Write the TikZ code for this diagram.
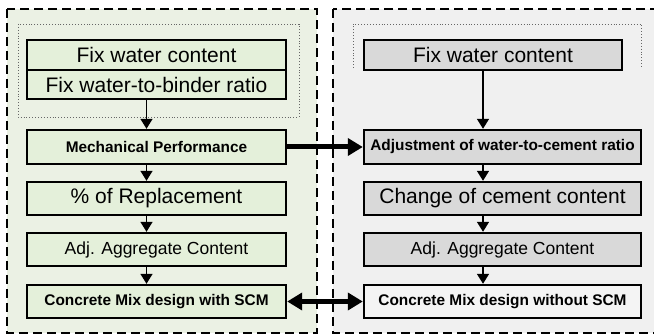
\documentclass[tikz,border=0pt]{standalone}
\usepackage{fontspec}
\setmainfont{Liberation Sans}
\usepackage{tikz}
\usetikzlibrary{arrows.meta, calc}

\definecolor{greenbg}{HTML}{EBF1E4}
\definecolor{greenbox}{HTML}{E4F0DA}
\definecolor{graybg}{HTML}{F0F0F0}
\definecolor{graybox}{HTML}{D9D9D9}
\definecolor{whitebox}{HTML}{F4F4F4}

\begin{document}
\begin{tikzpicture}[x=1pt, y=-1pt,
  box/.style={draw, line width=2.4pt, inner sep=0pt, font=\fontsize{21}{24}\selectfont},
  boldbox/.style={box, font=\fontsize{15.4}{18}\selectfont\bfseries},
  smallbox/.style={box, font=\fontsize{17.5}{20}\selectfont},
  leftbox/.style={fill=greenbox, minimum width=259pt},
  rightbox/.style={fill=graybox, minimum width=277pt},
  frame/.style={line width=2pt, dash pattern=on 9pt off 5pt},
  group/.style={black!60, line width=0.9pt, dotted},
  flow/.style={-{Triangle[length=10pt,width=12pt]}, line width=1.6pt},
  link/.style={-{Triangle[length=15pt,width=17pt]}, line width=5pt},
  twolink/.style={{Triangle[length=15pt,width=17pt]}-{Triangle[length=15pt,width=17pt]}, line width=4.5pt}]
\useasboundingbox (0,0) rectangle (654,336);
\fill[white] (0,0) rectangle (654,336);
\draw[frame, fill=greenbg] (7,9) rectangle (317,333);
\draw[frame, fill=graybg] (333,9) rectangle (662,333);
\draw[group] (18,24) rectangle (299,117);
\draw[group] (353,68) -- (353,24) -- (641,24) -- (641,68);

\node[box, leftbox, minimum height=30pt] (fixwaterL) at (156.5,55) {Fix water content};
\node[box, leftbox, minimum height=29pt] (fixratio) at (156.5,84.5) {Fix water-to-binder ratio};
\node[boldbox, leftbox, minimum height=34pt] (mech) at (156.5,147) {Mechanical Performance};
\node[box, leftbox, minimum height=33pt] (replace) at (156.5,198.5) {\% of Replacement};
\node[smallbox, leftbox, minimum height=33pt] (aggL) at (156.5,249.5) {Adj. Aggregate Content};
\node[boldbox, leftbox, minimum height=33pt] (mixL) at (156.5,301.5) {Concrete Mix design with SCM};

\node[box, fill=graybox, minimum width=258pt, minimum height=30pt] (fixwaterR) at (493,55) {Fix water content};
\node[boldbox, rightbox, minimum height=34pt] (adjust) at (502.5,147) {Adjustment of water-to-cement ratio};
\node[box, rightbox, minimum height=33pt] (cement) at (502.5,198.5) {Change of cement content};
\node[smallbox, rightbox, minimum height=33pt] (aggR) at (502.5,249.5) {Adj. Aggregate Content};
\node[boldbox, rightbox, fill=whitebox, minimum height=33pt] (mixR) at (502.5,301.5) {Concrete Mix design without SCM};

\draw[flow] ([xshift=-10pt]fixratio.south) -- ([xshift=-10pt]mech.north);
\draw[flow] ([xshift=-10pt]mech.south) -- ([xshift=-10pt]replace.north);
\draw[flow] ([xshift=-10pt]replace.south) -- ([xshift=-10pt]aggL.north);
\draw[flow] ([xshift=-10pt]aggL.south) -- ([xshift=-10pt]mixL.north);

\draw[flow] ([xshift=-10pt]fixwaterR.south) -- ([xshift=-19.5pt]adjust.north);
\draw[flow] ([xshift=-19.5pt]adjust.south) -- ([xshift=-19.5pt]cement.north);
\draw[flow] ([xshift=-19.5pt]cement.south) -- ([xshift=-19.5pt]aggR.north);
\draw[flow] ([xshift=-19.5pt]aggR.south) -- ([xshift=-19.5pt]mixR.north);

\draw[link] (mech.east) -- (adjust.west);
\draw[twolink] (mixL.east) -- (mixR.west);
\end{tikzpicture}
\end{document}
